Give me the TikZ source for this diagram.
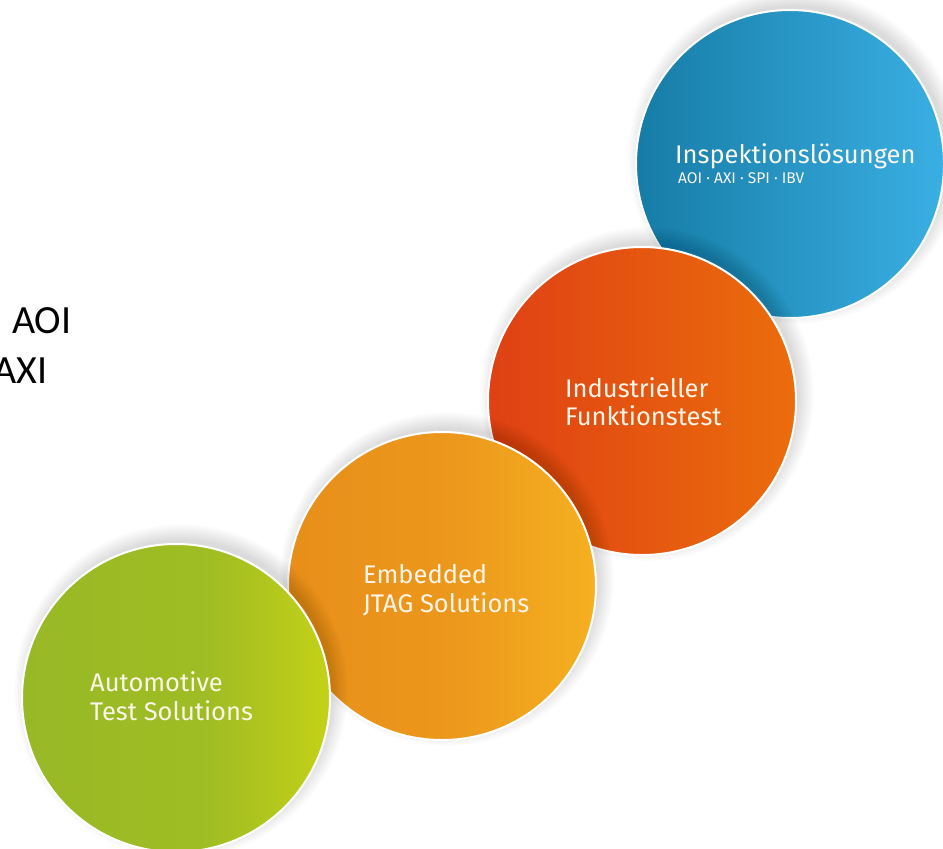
\documentclass[tikz,border=0pt]{standalone}
\usepackage{fontspec}
\setmainfont{Fira Sans}
\newfontfamily\calib{Carlito}
\definecolor{bluL}{HTML}{167CA6}
\definecolor{bluR}{HTML}{3AAFE3}
\definecolor{redL}{HTML}{DF4014}
\definecolor{redR}{HTML}{EB6D0C}
\definecolor{oraL}{HTML}{E88E1A}
\definecolor{oraR}{HTML}{F5B020}
\definecolor{grnL}{HTML}{98B926}
\definecolor{grnR}{HTML}{C4D117}
\definecolor{txt}{HTML}{FBF5EA}
\pgfdeclarehorizontalshading{blush}{100bp}{color(0bp)=(bluL); color(25bp)=(bluL); color(75bp)=(bluR); color(100bp)=(bluR)}
\pgfdeclarehorizontalshading{redsh}{100bp}{color(0bp)=(redL); color(25bp)=(redL); color(75bp)=(redR); color(100bp)=(redR)}
\pgfdeclarehorizontalshading{orash}{100bp}{color(0bp)=(oraL); color(25bp)=(oraL); color(52bp)=(oraL!70!oraR); color(75bp)=(oraR); color(100bp)=(oraR)}
\pgfdeclarehorizontalshading{grnsh}{100bp}{color(0bp)=(grnL); color(25bp)=(grnL); color(55bp)=(grnL!85!grnR); color(75bp)=(grnR); color(100bp)=(grnR)}
\tikzset{
  disc/.style={circle, minimum size=308pt, inner sep=0pt, draw=white, line width=2pt},
  lbl/.style={anchor=base west, inner sep=0pt, text=txt, font=\fontsize{25.5}{30}\selectfont},
  sublbl/.style={anchor=base west, inner sep=0pt, text=txt, font=\fontsize{15.5}{18}\selectfont},
  side/.style={inner sep=0pt, text=black, font=\calib\fontsize{40}{48}\selectfont},
}
\newcommand{\softshadow}[1]{%
  \foreach \k in {1,...,12}{
    \fill[black, opacity=0.011] (#1) ++(5pt,7pt) circle[radius=150pt+\k*1.4pt];
  }%
}
\begin{document}
\begin{tikzpicture}[x=1pt,y=-1pt]
\useasboundingbox (0,0) rectangle (943,849);
\fill[white] (0,0) rectangle (943,849);
\coordinate (cb) at (790,164);
\coordinate (cr) at (642,401);
\coordinate (co) at (442,586);
\coordinate (cg) at (176,698);
% side text
\node[side, anchor=base west] (aoi) at (12,333) {AOI};
\node[side, anchor=base east] (axi) at (48,383) {AXI};
% blue
\softshadow{cb}
\node[disc, shading=blush] (blue) at (cb) {};
% red
\softshadow{cr}
\node[disc, shading=redsh] (red) at (cr) {};
% orange
\softshadow{co}
\node[disc, shading=orash] (orange) at (co) {};
% green
\softshadow{cg}
\node[disc, shading=grnsh] (green) at (cg) {};
% labels
\node[lbl] (t1) at (675,163) {Inspektionslösungen};
\node[sublbl] (t1b) at (678,183) {AOI · AXI · SPI · IBV};
\node[lbl] (t2) at (565,397) {Industrieller};
\node[lbl] (t2b) at (565,425) {Funktionstest};
\node[lbl] (t3) at (363,583) {Embedded};
\node[lbl] (t3b) at (363,612) {JTAG Solutions};
\node[lbl] (t4) at (90,691) {Automotive};
\node[lbl] (t4b) at (90,720) {Test Solutions};
\end{tikzpicture}
\end{document}
